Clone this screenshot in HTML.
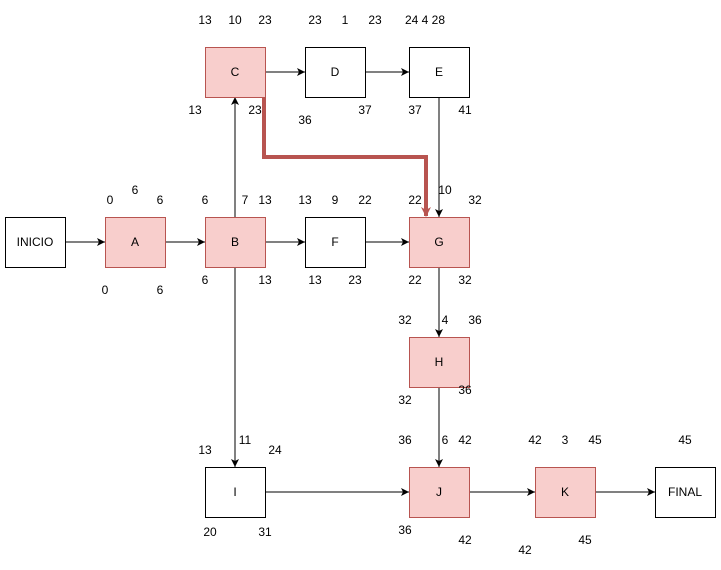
<!DOCTYPE html>
<html><head><meta charset="utf-8">
<style>
html,body{margin:0;padding:0;background:#fff;}
svg{display:block;font-family:"Liberation Sans",sans-serif;}
</style></head>
<body>
<svg id="d" width="721" height="570" viewBox="0 0 721 570">
<defs>
<marker id="ar" markerWidth="10" markerHeight="10" refX="9" refY="5" orient="auto" markerUnits="userSpaceOnUse">
<path d="M1,1 L9,5 L1,9 L3,5 Z" fill="#000"/>
</marker>
<marker id="arr" markerWidth="12" markerHeight="12" refX="10" refY="6" orient="auto" markerUnits="userSpaceOnUse">
<path d="M1,1 L11,6 L1,11 L4,6 Z" fill="#b85450"/>
</marker>
</defs>
</svg>
<script>
const nodeNames=["INICIO","A","B","C","D","E","F","G","H","I","J","K","FINAL"];
const nodeX=[5,105,205,205,305,409,305,409,409,205,409,535,655];
const nodeY=[217,217,217,47,47,47,217,217,337,467,467,467,467];
const critical=[0,1,1,1,0,0,0,1,1,0,1,1,0];
const edges=[[0,1],[1,2],[2,6],[6,7],[2,3],[3,4],[4,5],[5,7],[7,8],[8,10],[2,9],[9,10],[10,11],[11,12]];
const labelText=["13","10","23","23","1","23","24 4 28","13","23","36","37","37","41",
"6","0","6","6","7","13","13","9","22","22","10","32",
"0","6","6","13","13","23","22","32",
"32","4","36","32","36",
"13","11","24","36","6","42","42","3","45","45",
"20","31","36","42","42","45"];
const labelX=[205,235,265,315,345,375,425,195,255,305,365,415,465,
135,110,160,205,245,265,305,335,365,415,445,475,
105,160,205,265,315,355,415,465,
405,445,475,405,465,
205,245,275,405,445,465,535,565,595,685,
210,265,405,465,525,585];
const labelY=[20,20,20,20,20,20,20,110,110,120,110,110,110,
190,200,200,200,200,200,200,200,200,200,190,200,
290,290,280,280,280,280,280,280,
320,320,320,400,390,
450,440,450,440,440,440,440,440,440,440,
532,532,530,540,550,540];
const svg=document.getElementById('d');
const NS='http://www.w3.org/2000/svg';
const W=60,H=50;
function mk(t,a){const e=document.createElementNS(NS,t);for(const k in a)e.setAttribute(k,a[k]);svg.appendChild(e);return e;}
// edges
edges.forEach(([a,b])=>{
  let x1,y1,x2,y2;
  const ax=nodeX[a],ay=nodeY[a],bx=nodeX[b],by=nodeY[b];
  if(ay===by){x1=ax+W;y1=ay+H/2;x2=bx;y2=y1;}
  else if(ay>by){x1=ax+W/2;y1=ay;x2=x1;y2=by+H;}
  else{x1=ax+W/2;y1=ay+H;x2=bx+W/2;y2=by;}
  const l=mk('line',{x1,y1,x2,y2,stroke:'#000','stroke-width':1,'marker-end':'url(#ar)'});
  
  
});
// critical path C->G
const c=3,g=7;
const p=mk('path',{d:`M${nodeX[c]+W-1},${nodeY[c]+H} V157 H${nodeX[g]+17} V${nodeY[g]-1}`,fill:'none',stroke:'#b85450','stroke-width':4,'marker-end':'url(#arr)'});


// nodes
nodeNames.forEach((n,i)=>{
  const r=mk('rect',{x:nodeX[i]+0.5,y:nodeY[i]+0.5,width:W,height:H,fill:critical[i]?'#f8cecc':'#fff',stroke:critical[i]?'#b85450':'#000','stroke-width':1});
  
  
  const t=mk('text',{x:nodeX[i]+W/2,y:nodeY[i]+H/2+4,'text-anchor':'middle','font-size':12,fill:'#000'});
  t.textContent=n;
  
  
});
// labels
labelText.forEach((s,i)=>{
  const t=mk('text',{x:labelX[i],y:labelY[i]+4,'text-anchor':'middle','font-size':12,fill:'#000'});
  t.textContent=s;
  
  
});
</script>
</body></html>
